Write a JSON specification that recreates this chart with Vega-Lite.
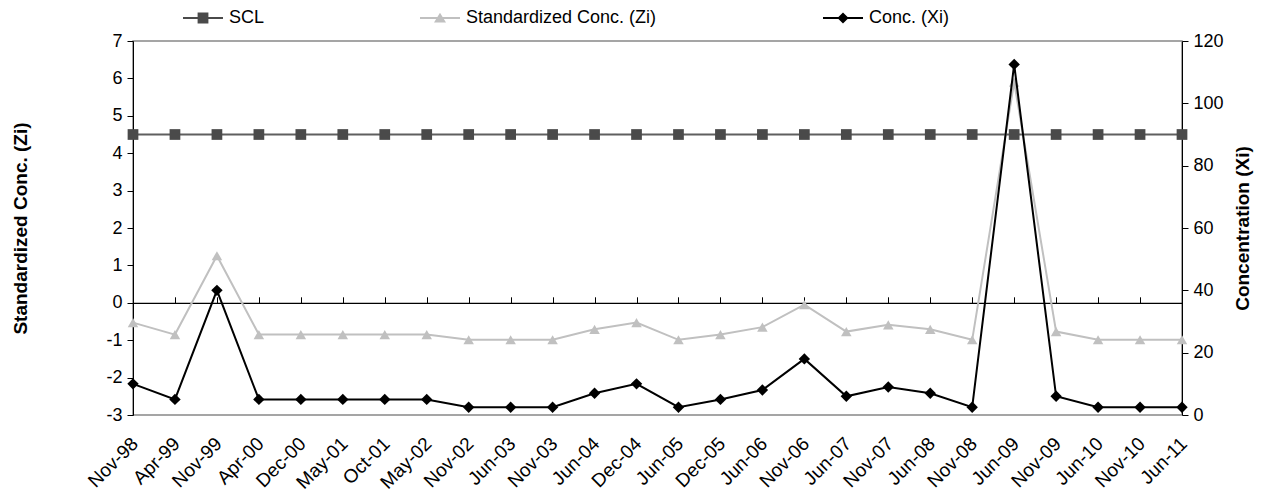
{
  "$schema": "https://vega.github.io/schema/vega-lite/v6.json",
  "width": 1049,
  "height": 374,
  "autosize": {"type": "none"},
  "padding": {"left": 133, "top": 41, "right": 80, "bottom": 83},
  "config": {
    "font": "Liberation Sans",
    "view": {"stroke": "#888888", "strokeWidth": 1.5},
    "axis": {"labelFontSize": 18, "labelColor": "#000000", "titleColor": "#000000", "domainColor": "#000000", "tickColor": "#000000", "grid": false, "titleFontSize": 19, "titleFontWeight": "bold", "labelFont": "Liberation Sans", "titleFont": "Liberation Sans", "labelOverlap": false},
    "legend": {"labelFontSize": 18, "labelColor": "#000000", "labelFont": "Liberation Sans", "symbolSize": 1600, "labelOffset": 6, "symbolStrokeWidth": 0, "orient": "none", "padding": 0, "labelLimit": 500}
  },
  "data": {"values": [
    {"date": "Nov-98", "zi": -0.53, "xi": 10, "scl": 4.5},
    {"date": "Apr-99", "zi": -0.85, "xi": 5, "scl": 4.5},
    {"date": "Nov-99", "zi": 1.26, "xi": 40, "scl": 4.5},
    {"date": "Apr-00", "zi": -0.85, "xi": 5, "scl": 4.5},
    {"date": "Dec-00", "zi": -0.85, "xi": 5, "scl": 4.5},
    {"date": "May-01", "zi": -0.85, "xi": 5, "scl": 4.5},
    {"date": "Oct-01", "zi": -0.85, "xi": 5, "scl": 4.5},
    {"date": "May-02", "zi": -0.85, "xi": 5, "scl": 4.5},
    {"date": "Nov-02", "zi": -0.99, "xi": 2.5, "scl": 4.5},
    {"date": "Jun-03", "zi": -0.99, "xi": 2.5, "scl": 4.5},
    {"date": "Nov-03", "zi": -0.99, "xi": 2.5, "scl": 4.5},
    {"date": "Jun-04", "zi": -0.71, "xi": 7, "scl": 4.5},
    {"date": "Dec-04", "zi": -0.53, "xi": 10, "scl": 4.5},
    {"date": "Jun-05", "zi": -0.99, "xi": 2.5, "scl": 4.5},
    {"date": "Dec-05", "zi": -0.85, "xi": 5, "scl": 4.5},
    {"date": "Jun-06", "zi": -0.65, "xi": 8, "scl": 4.5},
    {"date": "Nov-06", "zi": -0.05, "xi": 18, "scl": 4.5},
    {"date": "Jun-07", "zi": -0.77, "xi": 6, "scl": 4.5},
    {"date": "Nov-07", "zi": -0.59, "xi": 9, "scl": 4.5},
    {"date": "Jun-08", "zi": -0.71, "xi": 7, "scl": 4.5},
    {"date": "Nov-08", "zi": -0.99, "xi": 2.5, "scl": 4.5},
    {"date": "Jun-09", "zi": 5.9, "xi": 112.5, "scl": 4.5},
    {"date": "Nov-09", "zi": -0.77, "xi": 6, "scl": 4.5},
    {"date": "Jun-10", "zi": -0.99, "xi": 2.5, "scl": 4.5},
    {"date": "Nov-10", "zi": -0.99, "xi": 2.5, "scl": 4.5},
    {"date": "Jun-11", "zi": -0.99, "xi": 2.5, "scl": 4.5}
  ]},
  "layer": [
    {
      "encoding": {
        "x": {"field": "date", "type": "ordinal", "sort": null, "scale": {"type": "point", "padding": 0},
              "axis": {"orient": "bottom", "title": null, "labelAngle": -45, "domain": false, "ticks": false, "labelPadding": 19, "labelOffset": -5, "labelFontSize": 19}}
      },
      "layer": [
        {
          "mark": {"type": "line", "color": "#5f5f5f", "strokeWidth": 1.8},
          "encoding": {"y": {"field": "scl", "type": "quantitative", "scale": {"domain": [-3, 7], "nice": false, "zero": false},
                             "axis": {"orient": "left", "values": [-3, -2, -1, 0, 1, 2, 3, 4, 5, 6, 7], "labelExpr": "toString(datum.value)", "tickSize": 6, "labelPadding": 5, "title": "Standardized Conc. (Zi)", "titlePadding": 75}}}
        },
        {
          "mark": {"type": "point", "shape": "square", "size": 115, "filled": true, "opacity": 1},
          "encoding": {
            "y": {"field": "scl", "type": "quantitative",
                  "axis": {"orient": "left", "values": [-3, -2, -1, 0, 1, 2, 3, 4, 5, 6, 7], "labelExpr": "toString(datum.value)", "tickSize": 6, "labelPadding": 5, "title": "Standardized Conc. (Zi)", "titlePadding": 75}},
            "color": {"datum": "SCL", "scale": {"range": ["#4a4a4a"]},
                      "legend": {"title": null, "legendX": 50, "legendY": -43, "symbolType": "M-1,-0.045H1V0.045H-1Z M-0.27,-0.27H0.27V0.27H-0.27Z"}}
          }
        },
        {
          "mark": {"type": "line", "color": "#c0c0c0", "strokeWidth": 2},
          "encoding": {"y": {"field": "zi", "type": "quantitative",
                  "axis": {"orient": "left", "values": [-3, -2, -1, 0, 1, 2, 3, 4, 5, 6, 7], "labelExpr": "toString(datum.value)", "tickSize": 6, "labelPadding": 5, "title": "Standardized Conc. (Zi)", "titlePadding": 75}}}
        },
        {
          "mark": {"type": "point", "shape": "triangle-up", "size": 110, "filled": true, "opacity": 1},
          "encoding": {
            "y": {"field": "zi", "type": "quantitative",
                  "axis": {"orient": "left", "values": [-3, -2, -1, 0, 1, 2, 3, 4, 5, 6, 7], "labelExpr": "toString(datum.value)", "tickSize": 6, "labelPadding": 5, "title": "Standardized Conc. (Zi)", "titlePadding": 75}},
            "color": {"datum": "Standardized Conc. (Zi)", "scale": {"range": ["#c0c0c0"]},
                      "legend": {"title": null, "legendX": 287, "legendY": -43, "symbolType": "M-1,-0.045H1V0.045H-1Z M0,-0.26L0.3,0.22H-0.3Z"}}
          }
        }
      ],
      "resolve": {"scale": {"color": "independent"}}
    },
    {
      "encoding": {
        "x": {"field": "date", "type": "ordinal", "sort": null,
              "axis": {"orient": "top", "offset": -261.8, "labels": false, "title": null, "tickSize": 6, "domainWidth": 1.2}}
      },
      "layer": [
        {
          "mark": {"type": "line", "color": "#000000", "strokeWidth": 2},
          "encoding": {"y": {"field": "xi", "type": "quantitative", "scale": {"domain": [0, 120], "nice": false},
                             "axis": {"orient": "right", "values": [0, 20, 40, 60, 80, 100, 120], "tickSize": 6, "labelPadding": 5, "title": "Concentration (Xi)", "titleAngle": 270, "titlePadding": 29}}}
        },
        {
          "mark": {"type": "point", "shape": "diamond", "size": 130, "filled": true, "opacity": 1},
          "encoding": {
            "y": {"field": "xi", "type": "quantitative",
                  "axis": {"orient": "right", "values": [0, 20, 40, 60, 80, 100, 120], "tickSize": 6, "labelPadding": 5, "title": "Concentration (Xi)", "titleAngle": 270, "titlePadding": 29}},
            "color": {"datum": "Conc. (Xi)", "scale": {"range": ["#000000"]},
                      "legend": {"title": null, "legendX": 690, "legendY": -43, "symbolType": "M-1,-0.045H1V0.045H-1Z M0,-0.28L0.28,0L0,0.28L-0.28,0Z"}}
          }
        }
      ]
    }
  ],
  "resolve": {"scale": {"y": "independent", "color": "independent"}, "axis": {"x": "independent"}}
}
